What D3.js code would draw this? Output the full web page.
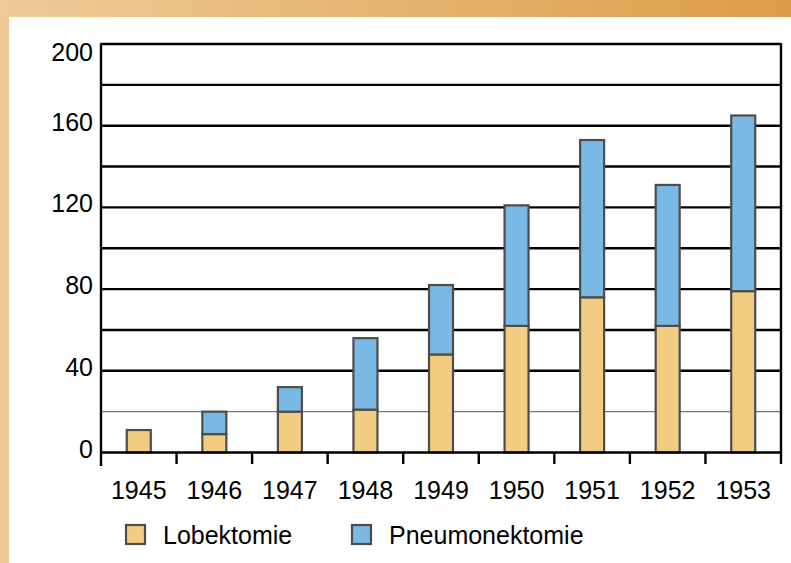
<!DOCTYPE html>
<html lang="de">
<head>
    <meta charset="UTF-8">
    <title>Lobektomie / Pneumonektomie 1945-1953</title>
    <script src="https://d3js.org/d3.v7.min.js"></script>
    <style>
        body { margin: 0; }
        text { font-family: "Liberation Sans", Arial, sans-serif; fill: #000; }
    </style>
</head>
<body>

    <svg id="svg" width="791" height="563"></svg>

    <script>
        // data
        const years = ["1945", "1946", "1947", "1948", "1949", "1950", "1951", "1952", "1953"];
        const lobektomie = [11, 9, 20, 21, 48, 62, 76, 62, 79];
        const pneumonektomie = [0, 11, 12, 35, 34, 59, 77, 69, 86];
        const yTickLabels = [0, 40, 80, 120, 160, 200];
        const gridValues = [20, 40, 60, 80, 100, 120, 140, 160, 180, 200];
        const seriesNames = ["Lobektomie", "Pneumonektomie"];
        const seriesColors = ["#F2CC80", "#79B9E3"];

        let svg = d3.select('svg');
        let width = +svg.attr('width');
        let height = +svg.attr('height');

        // orange frame at top and left
        let defs = svg.append('defs');
        let grad = defs.append('linearGradient').attr('id', 'topband');
        grad.append('stop').attr('offset', '0%').attr('stop-color', '#EFCB98');
        grad.append('stop').attr('offset', '100%').attr('stop-color', '#DC9D48');

        svg.append('rect').attr('x', 0).attr('y', 0).attr('width', width).attr('height', height)
            .attr('fill', '#EECA97');
        svg.append('rect').attr('x', 0).attr('y', 0).attr('width', width).attr('height', 17)
            .attr('fill', 'url(#topband)');
        svg.append('rect').attr('x', 9).attr('y', 17).attr('width', width - 9).attr('height', height - 17)
            .attr('fill', '#fff');

        const plotLeft = 101, plotRight = 781, plotTop = 44, plotBottom = 452.5;

        let x = d3.scaleBand().domain(years).range([plotLeft, plotRight]);
        let y = d3.scaleLinear().domain([0, 200]).range([plotBottom, plotTop]);

        let plot = svg.append('g');

        // horizontal grid lines
        plot.selectAll('line.grid')
            .data(gridValues)
            .enter()
            .append('line')
            .attr('class', 'grid')
            .attr('x1', plotLeft)
            .attr('x2', plotRight)
            .attr('y1', d => y(d))
            .attr('y2', d => y(d))
            .attr('stroke', d => d === 20 ? '#777' : '#000')
            .attr('stroke-width', d => d === 20 ? 1.3 : 2.4);

        // stacked bars
        const table = years.map((yr, i) => ({ year: yr, Lobektomie: lobektomie[i], Pneumonektomie: pneumonektomie[i] }));
        const stacked = d3.stack().keys(seriesNames)(table);
        const barW = 24;

        stacked.forEach((layer, k) => {
            plot.append('g')
                .selectAll('rect')
                .data(layer.filter(d => d[1] > d[0]))
                .enter()
                .append('rect')
                .attr('x', d => x(d.data.year) + x.bandwidth() / 2 - barW / 2)
                .attr('y', d => y(d[1]))
                .attr('width', barW)
                .attr('height', d => y(d[0]) - y(d[1]))
                .attr('fill', seriesColors[k])
                .attr('stroke', '#4d4d4d')
                .attr('stroke-width', 2.2);
        });

        // axes frame
        const axisColor = '#000';
        plot.append('line').attr('x1', plotLeft).attr('x2', plotLeft).attr('y1', plotTop - 1).attr('y2', 466)
            .attr('stroke', axisColor).attr('stroke-width', 2.4);
        plot.append('line').attr('x1', plotRight).attr('x2', plotRight).attr('y1', plotTop - 1).attr('y2', 464)
            .attr('stroke', axisColor).attr('stroke-width', 2.4);
        plot.append('line').attr('x1', plotLeft).attr('x2', plotRight).attr('y1', plotBottom).attr('y2', plotBottom)
            .attr('stroke', axisColor).attr('stroke-width', 2.4);

        // x tick marks between categories
        plot.selectAll('line.xtick')
            .data(years.slice(1))
            .enter()
            .append('line')
            .attr('class', 'xtick')
            .attr('x1', d => x(d))
            .attr('x2', d => x(d))
            .attr('y1', plotBottom)
            .attr('y2', 464)
            .attr('stroke', axisColor)
            .attr('stroke-width', 2.4);

        // x labels
        svg.selectAll('text.xlab')
            .data(years)
            .enter()
            .append('text')
            .attr('class', 'xlab')
            .attr('x', d => x(d) + x.bandwidth() / 2)
            .attr('y', 499)
            .attr('text-anchor', 'middle')
            .style('font-size', '25px')
            .text(d => d);

        // y labels (top one pushed down a little as in the original)
        svg.selectAll('text.ylab')
            .data(yTickLabels)
            .enter()
            .append('text')
            .attr('class', 'ylab')
            .attr('x', 93)
            .attr('y', d => d === 200 ? y(d) + 17 : y(d) + 5)
            .attr('text-anchor', 'end')
            .style('font-size', '25px')
            .text(d => d);

        // legend
        const legendX = [126, 352];
        let legend = svg.selectAll('g.legend')
            .data(seriesNames)
            .enter()
            .append('g')
            .attr('class', 'legend')
            .attr('transform', (d, i) => `translate(${legendX[i]},525)`);

        legend.append('rect')
            .attr('x', 0)
            .attr('y', 0)
            .attr('width', 19)
            .attr('height', 19)
            .attr('fill', (d, i) => seriesColors[i])
            .attr('stroke', '#4d4d4d')
            .attr('stroke-width', 2.2);

        legend.append('text')
            .attr('x', 37)
            .attr('y', 19)
            .style('font-size', '25px')
            .text(d => d);
    </script>

</body>
</html>
